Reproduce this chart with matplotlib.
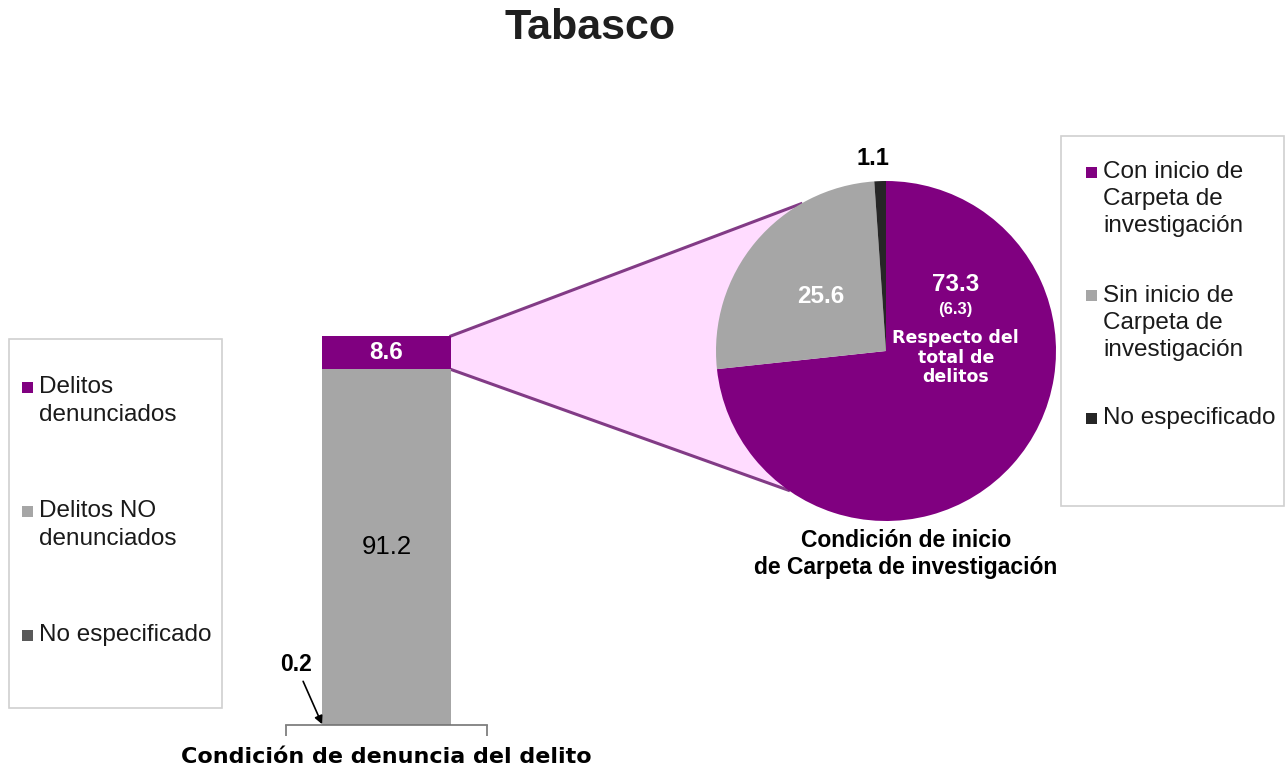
import numpy as np
import matplotlib
matplotlib.use("Agg")
import matplotlib.pyplot as plt
from matplotlib.patches import Polygon, Rectangle
from matplotlib.lines import Line2D

plt.rcParams['font.family'] = ['Liberation Sans', 'DejaVu Sans']

# ---------------- data ----------------
title = "Tabasco"
denuncia_labels = ["Delitos\ndenunciados", "Delitos NO\ndenunciados", "No especificado"]
denuncia_values = [8.6, 91.2, 0.2]
denuncia_colors = ["#800080", "#A6A6A6", "#595959"]
denuncia_axis_label = "Condición de denuncia del delito"

carpeta_labels = ["Con inicio de\nCarpeta de\ninvestigación", "Sin inicio de\nCarpeta de\ninvestigación", "No especificado"]
carpeta_values = [73.3, 25.6, 1.1]
carpeta_colors = ["#800080", "#A6A6A6", "#262626"]
carpeta_share_total = 6.3
carpeta_caption = "Condición de inicio\nde Carpeta de investigación"

W, H = 1286, 769
fig = plt.figure(figsize=(W / 100, H / 100), dpi=100)


def fx(x):
    return x / W


def fy(y):
    return 1 - y / H


# ---------------- title ----------------
fig.text(fx(590), fy(28), title, ha="center", va="center", fontsize=31, fontweight="bold", color="#1F1F1F")

# ---------------- stacked bar ----------------
ax_bar = fig.add_axes([fx(286), fy(725), 201 / W, 389 / H])
ax_bar.set_xlim(-0.78, 0.78)
ax_bar.set_ylim(0, sum(denuncia_values))
bottom = 0.0
for val, col in zip(reversed(denuncia_values), reversed(denuncia_colors)):
    ax_bar.bar(0, val, width=1.0, bottom=bottom, color=col, linewidth=0)
    bottom += val
for s in ["top", "left", "right"]:
    ax_bar.spines[s].set_visible(False)
ax_bar.spines["bottom"].set_color("#7F7F7F")
ax_bar.spines["bottom"].set_linewidth(1.3)
ax_bar.set_yticks([])
ax_bar.set_xticks([-0.78, 0.78])
ax_bar.set_xticklabels([])
ax_bar.tick_params(axis="x", direction="out", length=8, width=1.3, color="#7F7F7F")
ax_bar.patch.set_visible(False)

total = sum(denuncia_values)
top_val = denuncia_values[0]
mid_val = denuncia_values[1]
low_val = denuncia_values[2]
ax_bar.text(0, total - top_val / 2, f"{top_val:.1f}", ha="center", va="center",
            color="white", fontsize=17.5, fontweight="bold")
ax_bar.text(0, low_val + mid_val / 2, f"{mid_val:.1f}", ha="center", va="center",
            color="black", fontsize=18.5)
ax_bar.annotate(f"{low_val:.1f}", xy=(-0.5, low_val), xytext=(-19, 43), textcoords="offset points",
                ha="center", va="center", fontsize=16.5, fontweight="bold", color="black",
                arrowprops=dict(arrowstyle="-|>", color="black", lw=1.2, mutation_scale=12,
                                shrinkA=2, shrinkB=0))
fig.text(fx(386), fy(757), denuncia_axis_label, ha="center", va="center",
         fontsize=16, fontweight="bold", color="black", family=["DejaVu Sans"])

# ---------------- pie ----------------
ax_pie = fig.add_axes([fx(716), fy(521), 340 / W, 340 / H])
wedges, _ = ax_pie.pie(carpeta_values, colors=carpeta_colors, startangle=90, counterclock=False,
                       radius=1, wedgeprops=dict(linewidth=0))
ax_pie.set_xlim(-1, 1)
ax_pie.set_ylim(-1, 1)
ax_pie.set_aspect("equal")
ax_pie.axis("off")

# slice angles
fr = np.array(carpeta_values) / sum(carpeta_values)
ends = 90 - 360 * np.cumsum(fr)
starts = np.concatenate([[90], ends[:-1]])
mids = np.deg2rad((starts + ends) / 2)

# gray slice label
ax_pie.text(0.5 * np.cos(mids[1]), 0.5 * np.sin(mids[1]), f"{carpeta_values[1]:.1f}",
            ha="center", va="center", color="white", fontsize=17.5, fontweight="bold")
# black slice label
ax_pie.text(1.13 * np.cos(mids[2]) - 0.035, 1.13 * np.sin(mids[2]) + 0.005, f"{carpeta_values[2]:.1f}",
            ha="center", va="center", color="black", fontsize=17, fontweight="bold")
# purple slice label
ax_pie.text(0.41, 0.39, f"{carpeta_values[0]:.1f}", ha="center", va="center",
            color="white", fontsize=17.5, fontweight="bold")
ax_pie.text(0.41, 0.245, f"({carpeta_share_total:.1f})", ha="center", va="center",
            color="white", fontsize=12, fontweight="bold")
ax_pie.text(0.41, -0.04, "Respecto del\ntotal de\ndelitos", ha="center", va="center",
            color="white", fontsize=12.5, fontweight="bold", linespacing=1.1,
            family=["DejaVu Sans"])

fig.text(fx(906), fy(554), carpeta_caption, ha="center", va="center", fontsize=16.5,
         fontweight="bold", color="black", linespacing=1.25)

# ---------------- connector ----------------
fig.canvas.draw()
inv = fig.transFigure.inverted()
p1 = ax_bar.transData.transform((0.5, total))
p2 = ax_bar.transData.transform((0.5, total - top_val))
a1, a2 = np.deg2rad(120), np.deg2rad(235)
q1 = ax_pie.transData.transform((np.cos(a1), np.sin(a1)))
q2 = ax_pie.transData.transform((np.cos(a2), np.sin(a2)))
pts = inv.transform(np.array([p1, q1, q2, p2]))
fig.add_artist(Polygon(pts, closed=True, facecolor="#FFDCFF", edgecolor="none",
                       transform=fig.transFigure, zorder=-2))
for a, b in [(pts[0], pts[1]), (pts[3], pts[2])]:
    fig.add_artist(Line2D([a[0], b[0]], [a[1], b[1]], color="#823B86", lw=2.2,
                          transform=fig.transFigure, zorder=-1))


# ---------------- legends ----------------
def draw_legend(box, marker_x, text_x, first_centers, line_gap, labels, colors):
    x0, y0, x1, y1 = box
    fig.add_artist(Rectangle((fx(x0), fy(y1)), (x1 - x0) / W, (y1 - y0) / H, transform=fig.transFigure,
                             facecolor="white", edgecolor="#D0D0D0", lw=1.2, zorder=-3))
    for lab, col, yc in zip(labels, colors, first_centers):
        s = 11
        fig.add_artist(Rectangle((fx(marker_x - s / 2), fy(yc + s / 2)), s / W, s / H,
                                 transform=fig.transFigure, facecolor=col, edgecolor="none"))
        for k, line in enumerate(lab.split("\n")):
            fig.text(fx(text_x), fy(yc + k * line_gap), line, ha="left", va="center",
                     fontsize=17.5, color="#1A1A1A")


draw_legend((9, 339, 222, 708), 27, 39, [387, 511, 635], 28, denuncia_labels, denuncia_colors)
draw_legend((1061, 136, 1284, 506), 1091, 1103, [172, 296, 418], 27, carpeta_labels, carpeta_colors)

fig.savefig("out.png", dpi=100, facecolor="white")
